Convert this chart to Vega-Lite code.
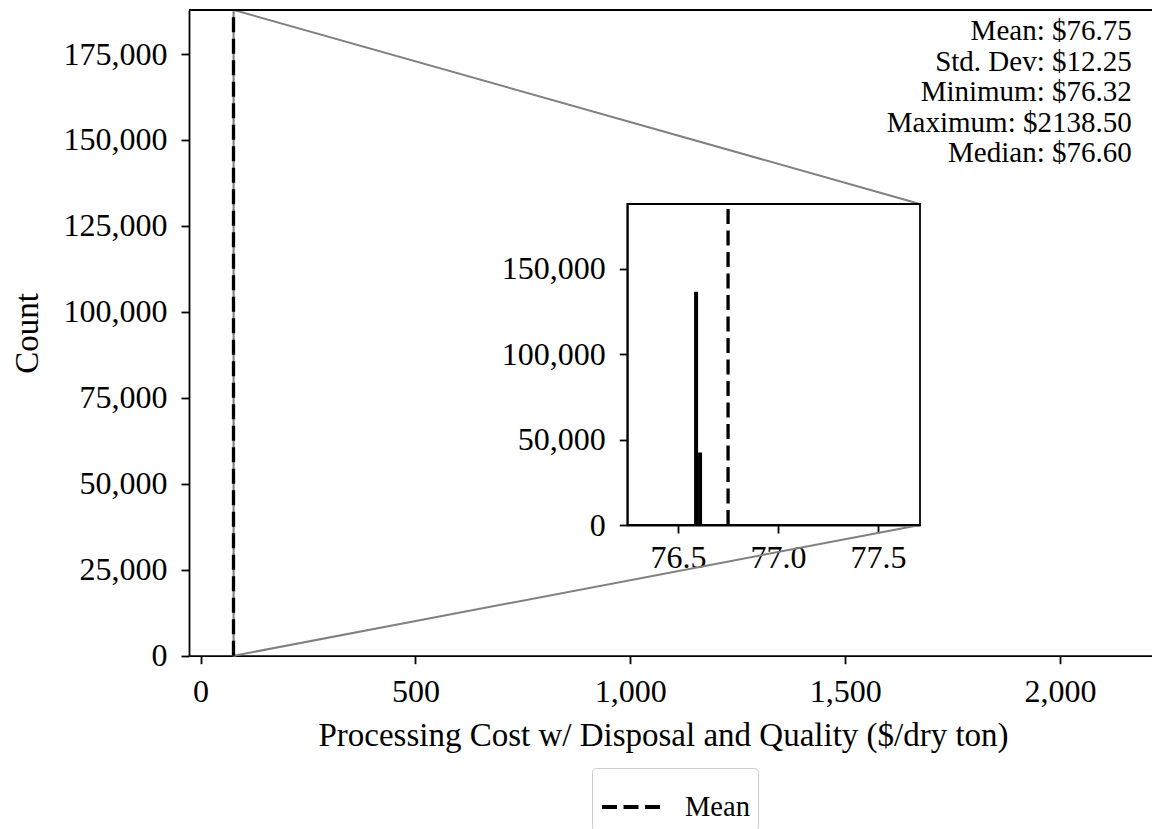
{
  "$schema": "https://vega.github.io/schema/vega-lite/v6.json",
  "autosize": {"type": "none"},
  "padding": {"left": 189, "top": 10, "right": 0, "bottom": 173.3},
  "width": 963,
  "height": 645.7,
  "background": "white",
  "config": {
    "view": {"stroke": null},
    "font": "Liberation Serif",
    "axis": {
      "grid": false,
      "domainColor": "black",
      "domainWidth": 1.8,
      "tickColor": "black",
      "tickWidth": 1.8,
      "tickSize": 8,
      "labelColor": "black",
      "labelFont": "Liberation Serif",
      "labelFontSize": 32,
      "titleFont": "Liberation Serif",
      "titleFontSize": 33,
      "titleFontWeight": "normal",
      "titleColor": "black"
    }
  },
  "resolve": {
    "scale": {"x": "independent", "y": "independent"},
    "axis": {"x": "independent", "y": "independent"}
  },
  "layer": [
    {
      "encoding": {
        "x": {
          "field": "x",
          "type": "quantitative",
          "scale": {"domain": [-26.8, 2214], "nice": false, "zero": false},
          "axis": {
            "orient": "bottom",
            "values": [0, 500, 1000, 1500, 2000],
            "format": ",d",
            "labelPadding": 13,
            "titleX": 474,
            "titleY": 90,
            "titleBaseline": "alphabetic"
          },
          "title": "Processing Cost w/ Disposal and Quality ($/dry ton)"
        },
        "y": {
          "field": "y",
          "type": "quantitative",
          "scale": {"domain": [0, 187800], "nice": false, "zero": false},
          "axis": {
            "orient": "left",
            "values": [0, 25000, 50000, 75000, 100000, 125000, 150000, 175000],
            "format": ",d",
            "labelPadding": 14,
            "titleX": -152,
            "titleY": 322.85,
            "titleBaseline": "alphabetic"
          },
          "title": "Count"
        }
      },
      "layer": [
        {
          "data": {"values": [{"x": 76.246, "x2": 77.71, "y": 0, "y2": 187800}]},
          "mark": {"type": "rect", "filled": false, "stroke": "#808080", "strokeWidth": 1.5},
          "encoding": {"x2": {"field": "x2"}, "y2": {"field": "y2"}}
        },
        {
          "data": {"values": [
            {"line": "top", "x": 77.71, "y": 187800},
            {"line": "top", "x": 1674.1, "y": 131378},
            {"line": "bottom", "x": 77.71, "y": 0},
            {"line": "bottom", "x": 1674.1, "y": 38014}
          ]},
          "mark": {"type": "line", "color": "#808080", "strokeWidth": 2},
          "encoding": {"detail": {"field": "line"}}
        },
        {
          "data": {"values": [{"x": 76.75, "y": 0, "y2": 187800, "label": "Mean"}]},
          "mark": {"type": "rule", "color": "black", "strokeWidth": 3.3},
          "encoding": {
            "y2": {"field": "y2"},
            "strokeDash": {
              "field": "label",
              "type": "nominal",
              "scale": {"range": [[15, 6.5]]},
              "legend": {
                "orient": "none",
                "legendX": 403,
                "legendY": 758,
                "title": null,
                "symbolType": "stroke",
                "symbolSize": 3364,
                "symbolStrokeWidth": 4,
                "symbolStrokeColor": "black",
                "symbolDash": [15, 6.5],
                "labelFont": "Liberation Serif",
                "labelFontSize": 28.5,
                "labelColor": "black",
                "labelOffset": 23,
                "padding": 8,
                "strokeColor": "#cccccc",
                "fillColor": "white",
                "cornerRadius": 4
              }
            }
          }
        },
        {
          "data": {"values": [{"x": -26.8, "x2": 2214, "y": 187800}]},
          "mark": {"type": "rule", "color": "black", "strokeWidth": 1.8},
          "encoding": {"x2": {"field": "x2"}}
        },
        {
          "data": {"values": [{"x": 2166.8, "y": 185764, "label": "Mean: $76.75\nStd. Dev: $12.25\nMinimum: $76.32\nMaximum: $2138.50\nMedian: $76.60"}]},
          "mark": {"type": "text", "align": "right", "baseline": "top", "fontSize": 29, "lineHeight": 30.5, "lineBreak": "\n", "font": "Liberation Serif", "color": "black"},
          "encoding": {"text": {"field": "label"}}
        }
      ]
    },
    {
      "encoding": {
        "x": {
          "field": "x",
          "type": "quantitative",
          "scale": {"domain": [76.246, 77.71], "range": [438.3, 731], "nice": false, "zero": false},
          "axis": {"orient": "bottom", "offset": -130.7, "values": [76.5, 77, 77.5], "format": ".1f", "labelPadding": 9, "title": null}
        },
        "y": {
          "field": "y",
          "type": "quantitative",
          "scale": {"domain": [0, 187800], "range": [515, 194], "nice": false, "zero": false},
          "axis": {"orient": "left", "offset": -438.3, "values": [0, 50000, 100000, 150000], "format": ",d", "labelPadding": 14, "title": null}
        }
      },
      "layer": [
        {
          "data": {"values": [{"x": 76.246, "x2": 77.71, "y": 0, "y2": 187800}]},
          "mark": {"type": "rect", "filled": false, "stroke": "black", "strokeWidth": 1.8},
          "encoding": {"x2": {"field": "x2"}, "y2": {"field": "y2"}}
        },
        {
          "data": {"values": [
            {"x": 76.58, "x2": 76.60, "y": 136500},
            {"x": 76.60, "x2": 76.62, "y": 42350}
          ]},
          "mark": {"type": "bar", "color": "black"},
          "encoding": {"x2": {"field": "x2"}, "y2": {"datum": 0}}
        },
        {
          "data": {"values": [{"x": 76.75, "y": 0, "y2": 187800}]},
          "mark": {"type": "rule", "color": "black", "strokeWidth": 3.3, "strokeDash": [15, 6.5]},
          "encoding": {"y2": {"field": "y2"}}
        }
      ]
    }
  ]
}
